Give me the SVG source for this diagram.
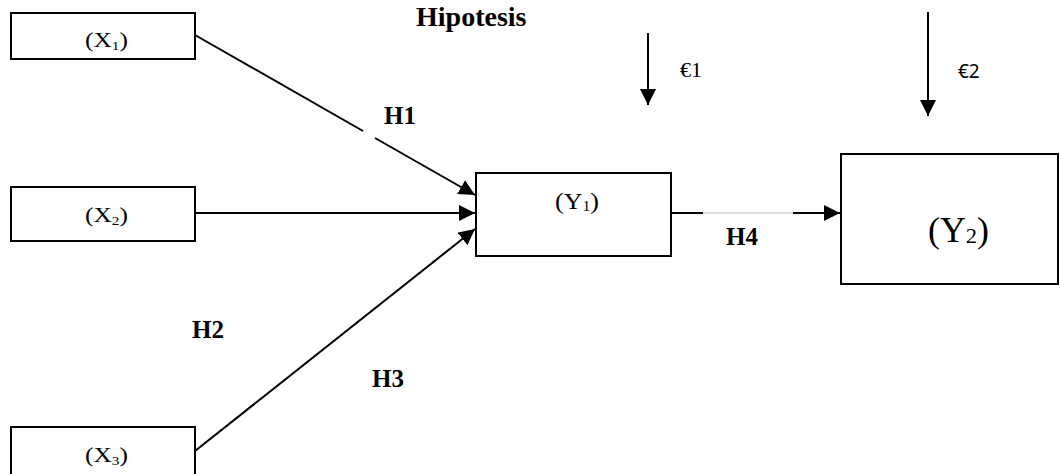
<svg xmlns="http://www.w3.org/2000/svg" width="1060" height="474" viewBox="0 0 1060 474">
<style>
.box{fill:#fff;stroke:#000;stroke-width:2}
.ln{stroke:#000;stroke-width:2;fill:none}
.thin{stroke:#c0c0c0;stroke-width:1;fill:none}
.lbl{font-family:"Liberation Serif","Times New Roman",serif;fill:#000}
.hb{font-family:"Liberation Serif","Times New Roman",serif;font-weight:bold;font-size:25px;fill:#000}
.sub{font-size:12px}
</style>
<defs>
<marker id="ah" markerUnits="userSpaceOnUse" markerWidth="16" markerHeight="16" refX="16" refY="8" orient="auto">
<path d="M0,0 L16,8 L0,16 z" fill="#000"/>
</marker>
</defs>
<rect width="1060" height="474" fill="#fff"/>
<g id="connectors">
<line class="ln" x1="195" y1="35" x2="363" y2="131"/>
<line class="ln" x1="375" y1="138" x2="475" y2="195" marker-end="url(#ah)"/>
<line class="ln" x1="195" y1="213" x2="475" y2="213" marker-end="url(#ah)"/>
<line class="ln" x1="195" y1="451" x2="475" y2="229" marker-end="url(#ah)"/>
<line class="ln" x1="671" y1="213" x2="703" y2="213"/>
<line class="thin" x1="703" y1="213" x2="793" y2="213"/>
<line class="ln" x1="793" y1="213" x2="840" y2="213" marker-end="url(#ah)"/>
<line class="ln" x1="648" y1="33" x2="648" y2="105" marker-end="url(#ah)"/>
<line class="ln" x1="928" y1="12" x2="928" y2="116" marker-end="url(#ah)"/>
</g>
<g id="x1">
<rect class="box" x="11" y="13" width="184" height="46"/>
<text class="lbl" x="85" y="47" font-size="20" textLength="43" lengthAdjust="spacingAndGlyphs">(X<tspan class="sub" dy="3">1</tspan><tspan dy="-3">)</tspan></text>
</g>
<g id="x2">
<rect class="box" x="11" y="187" width="184" height="54"/>
<text class="lbl" x="85" y="222" font-size="20" textLength="43" lengthAdjust="spacingAndGlyphs">(X<tspan class="sub" dy="3">2</tspan><tspan dy="-3">)</tspan></text>
</g>
<g id="x3">
<rect class="box" x="11" y="427" width="184" height="60"/>
<text class="lbl" x="85" y="462" font-size="20" textLength="43" lengthAdjust="spacingAndGlyphs">(X<tspan class="sub" dy="3">3</tspan><tspan dy="-3">)</tspan></text>
</g>
<g id="y1">
<rect class="box" x="476" y="173" width="195" height="83"/>
<text class="lbl" x="555" y="209" font-size="23" textLength="44" lengthAdjust="spacingAndGlyphs">(Y<tspan font-size="14" dy="2">1</tspan><tspan dy="-2">)</tspan></text>
</g>
<g id="y2">
<rect class="box" x="841" y="154" width="217" height="130"/>
<text class="lbl" x="928" y="242" font-size="35" textLength="61" lengthAdjust="spacingAndGlyphs">(Y<tspan font-size="22" dy="1">2</tspan><tspan dy="-1">)</tspan></text>
</g>
<g id="labels">
<text class="lbl" x="416" y="26" font-size="28" font-weight="bold">Hipotesis</text>
<text class="hb" x="384" y="124">H1</text>
<text class="hb" x="192" y="338">H2</text>
<text class="hb" x="372" y="387">H3</text>
<text class="hb" x="726" y="245">H4</text>
<text class="lbl" x="680" y="77" font-size="22">€1</text>
<text x="958" y="78" font-family="'Noto Sans','DejaVu Sans',sans-serif" font-size="19" fill="#000">€2</text>
</g>
</svg>
